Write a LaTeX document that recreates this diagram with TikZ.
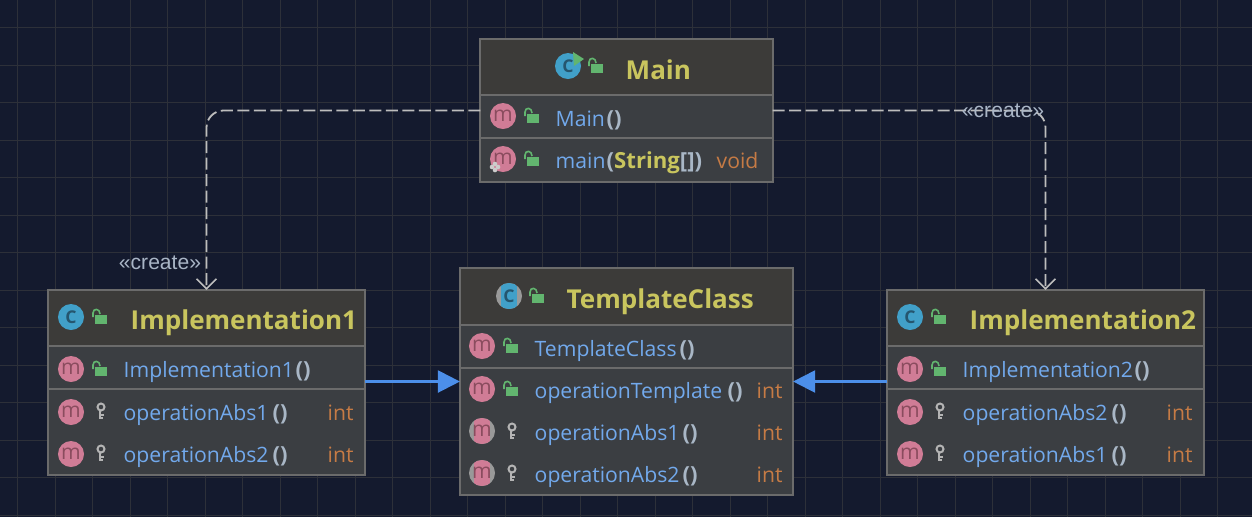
\documentclass[tikz,border=0pt]{standalone}
\usepackage{fontspec}
\setmainfont{Open Sans}
\setsansfont{Liberation Sans}
\usetikzlibrary{arrows.meta}
\definecolor{backcol}{HTML}{141A2E}
\definecolor{gridcol}{HTML}{2D3039}
\definecolor{headcol}{HTML}{3C3B39}
\definecolor{bodycol}{HTML}{3B3E42}
\definecolor{framecol}{HTML}{6B6B6B}
\definecolor{titlecol}{HTML}{C9C55E}
\definecolor{methcol}{HTML}{72A9EC}
\definecolor{parencol}{HTML}{A9B7C6}
\definecolor{typecol}{HTML}{C67B45}
\definecolor{pinkcol}{HTML}{D07C96}
\definecolor{pinktext}{HTML}{8A4C5E}
\definecolor{bluecol}{HTML}{41A0C9}
\definecolor{bluetext}{HTML}{25566F}
\definecolor{lockcol}{HTML}{62B56F}
\definecolor{keycol}{HTML}{B4B4B4}
\definecolor{dashcol}{HTML}{BDBDBD}
\definecolor{labelcol}{HTML}{A9B5C6}
\definecolor{inhercol}{HTML}{4C8FEA}
\tikzset{
  classbox/.style={draw=framecol,line width=0.02cm,fill=bodycol,inner sep=0pt,outer sep=0pt},
  rowline/.style={draw=framecol,line width=0.02cm},
  titletext/.style={anchor=base west,inner sep=0pt,text=titlecol,font=\fontsize{7.4}{9}\selectfont\bfseries},
  methtext/.style={anchor=base west,inner sep=0pt,text=methcol,font=\fontsize{6.02}{7}\selectfont},
  parentext/.style={anchor=base west,inner sep=0pt,text=parencol,font=\fontsize{6.3}{7}\selectfont\bfseries},
  typetext/.style={anchor=base west,inner sep=0pt,text=typecol,font=\fontsize{6.02}{7}\selectfont},
  micon/.style={circle,fill=pinkcol,text=pinktext,inner sep=0pt,minimum size=0.26cm,font=\fontsize{6}{6}\selectfont},
  cicon/.style={circle,fill=bluecol,text=bluetext,inner sep=0pt,minimum size=0.26cm,font=\fontsize{5}{5}\selectfont\bfseries},
  absicon/.style={circle,fill=keycol!85!black,inner sep=0pt,minimum size=0.26cm,
    path picture={\fill [#1] ([xshift=-0.08cm]path picture bounding box.south) rectangle ([xshift=0.08cm]path picture bounding box.north);}},
  createline/.style={draw=dashcol,line width=0.018cm,dash pattern=on 0.12cm off 0.045cm,rounded corners=0.17cm,-{Straight Barb[length=0.1cm,width=0.2cm,line width=0.016cm]}},
  inherline/.style={draw=inhercol,line width=0.022cm,-{Triangle[length=0.22cm,width=0.22cm,fill=inhercol]}},
  createtext/.style={inner sep=0pt,text=labelcol,font=\fontsize{6}{7}\selectfont\sffamily},
  lockicon/.pic={
    \fill [lockcol] (-5,-2) rectangle (7,7);
    \draw [lockcol,line width=0.016cm] (-7,0) -- (-7,-4) .. controls (-7,-9) and (0,-9) .. (0,-3);
  },
  keyicon/.pic={
    \draw [keycol,line width=0.02cm] (0,-4) circle (3.5);
    \draw [keycol,line width=0.026cm] (-1,-1) -- (-1,8);
    \draw [keycol,line width=0.018cm] (-1,4) -- (3,4) (-1,7) -- (2,7);
  },
  gearicon/.pic={
    \foreach \ang in {0,90,180,270} \fill [white!80!black] (\ang:3) circle (2.3);
  }
}
\begin{document}
\begin{tikzpicture}[x=0.01cm,y=-0.01cm]
  \useasboundingbox (0,0) rectangle (1252,517);
  \fill [backcol] (0,0) rectangle (1252,517);

  % Drawing grid
  \foreach \gx in {17.5,55,...,1250}
    \draw [gridcol,line width=0.01cm] (\gx,0) -- (\gx,517);
  \foreach \gy in {27.5,65,...,515}
    \draw [gridcol,line width=0.01cm] (0,\gy) -- (1252,\gy);

  % Class Main
  \node [classbox,minimum width=2.92cm,minimum height=1.43cm] (main) at (626.5,110.5) {};
  \fill [headcol] (main.north west) rectangle (main.east |- 0,95);
  \draw [rowline] (main.west |- 0,95) -- (main.east |- 0,95);
  \draw [rowline] (main.west |- 0,138) -- (main.east |- 0,138);
  \draw [rowline] (main.north west) rectangle (main.south east);
  \node [cicon] (mainc) at (568,66) {C};
  \fill [lockcol] (573,52) -- (584,59) -- (574,66) -- cycle;
  \pic at (596,66) {lockicon};
  \node [titletext] (maintitle) at (625,79) {Main};
  \node [micon] (mainm) at (503,116) {m};
  \pic at (532,116) {lockicon};
  \node [methtext] (mainctor) at (555,126) {Main};
  \node [parentext] (mainctorp) at (606,126) {()};
  \node [micon] (mainmm) at (503,159) {m};
  \pic at (495,167) {gearicon};
  \pic at (532,159) {lockicon};
  \node [methtext] (mainmeth) at (555,168) {main};
  \node [parentext] (mainargs) at (606,168) {(\textcolor{titlecol}{String}[])};
  \node [typetext] (mainvoid) at (716,168) {void};

  % Class TemplateClass
  \node [classbox,minimum width=3.33cm,minimum height=2.27cm] (templ) at (626.5,381.5) {};
  \fill [headcol] (templ.north west) rectangle (templ.east |- 0,325);
  \draw [rowline] (templ.west |- 0,325) -- (templ.east |- 0,325);
  \draw [rowline] (templ.west |- 0,368) -- (templ.east |- 0,368);
  \draw [rowline] (templ.north west) rectangle (templ.south east);
  \node [absicon=bluecol,text=bluetext,font=\fontsize{5}{5}\selectfont\bfseries] (templc) at (509,296) {C};
  \pic at (537,296) {lockicon};
  \node [titletext] (templtitle) at (566,308) {TemplateClass};
  \node [micon] (templm) at (482,346) {m};
  \pic at (511,346) {lockicon};
  \node [methtext] (templctor) at (534,356) {TemplateClass};
  \node [parentext] (templctorp) at (679,356) {()};
  \node [micon] (templn) at (482,389) {m};
  \pic at (511,389) {lockicon};
  \node [methtext] (templop) at (534,398) {operationTemplate};
  \node [parentext] (templopp) at (727,398) {()};
  \node [typetext] (templopt) at (756,398) {int};
  \node [absicon=pinkcol,text=pinktext,font=\fontsize{6}{6}\selectfont] (templa) at (482,431) {m};
  \pic at (512,431) {keyicon};
  \node [methtext] (templabsa) at (534,440) {operationAbs1};
  \node [parentext] (templabsap) at (682,440) {()};
  \node [typetext] (templabsat) at (756,440) {int};
  \node [absicon=pinkcol,text=pinktext,font=\fontsize{6}{6}\selectfont] (templb) at (482,473) {m};
  \pic at (512,473) {keyicon};
  \node [methtext] (templabsb) at (534,482) {operationAbs2};
  \node [parentext] (templabsbp) at (682,482) {()};
  \node [typetext] (templabsbt) at (756,482) {int};

  % Class Implementation1
  \node [classbox,minimum width=3.165cm,minimum height=1.85cm] (impla) at (206.5,382.5) {};
  \fill [headcol] (impla.north west) rectangle (impla.east |- 0,346);
  \draw [rowline] (impla.west |- 0,346) -- (impla.east |- 0,346);
  \draw [rowline] (impla.west |- 0,389) -- (impla.east |- 0,389);
  \draw [rowline] (impla.north west) rectangle (impla.south east);
  \node [cicon] (implac) at (71,317) {C};
  \pic at (100,317) {lockicon};
  \node [titletext] (implatitle) at (130,329) {Implementation1};
  \node [micon] (implam) at (71,369) {m};
  \pic at (100,369) {lockicon};
  \node [methtext] (implactor) at (123,377) {Implementation1};
  \node [parentext] (implactorp) at (295,377) {()};
  \node [micon] (implan) at (71,412) {m};
  \pic at (101,411) {keyicon};
  \node [methtext] (implaabsa) at (123,420) {operationAbs1};
  \node [parentext] (implaabsap) at (272,420) {()};
  \node [typetext] (implaabsat) at (327,420) {int};
  \node [micon] (implao) at (71,454) {m};
  \pic at (101,453) {keyicon};
  \node [methtext] (implaabsb) at (123,462) {operationAbs2};
  \node [parentext] (implaabsbp) at (272,462) {()};
  \node [typetext] (implaabsbt) at (327,462) {int};

  % Class Implementation2
  \node [classbox,minimum width=3.165cm,minimum height=1.85cm] (implb) at (1045.5,382.5) {};
  \fill [headcol] (implb.north west) rectangle (implb.east |- 0,346);
  \draw [rowline] (implb.west |- 0,346) -- (implb.east |- 0,346);
  \draw [rowline] (implb.west |- 0,389) -- (implb.east |- 0,389);
  \draw [rowline] (implb.north west) rectangle (implb.south east);
  \node [cicon] (implbc) at (910,317) {C};
  \pic at (939,317) {lockicon};
  \node [titletext] (implbtitle) at (969,329) {Implementation2};
  \node [micon] (implbm) at (910,369) {m};
  \pic at (939,369) {lockicon};
  \node [methtext] (implbctor) at (962,377) {Implementation2};
  \node [parentext] (implbctorp) at (1134,377) {()};
  \node [micon] (implbn) at (910,412) {m};
  \pic at (940,411) {keyicon};
  \node [methtext] (implbabsb) at (962,420) {operationAbs2};
  \node [parentext] (implbabsbp) at (1111,420) {()};
  \node [typetext] (implbabsbt) at (1166,420) {int};
  \node [micon] (implbo) at (910,454) {m};
  \pic at (940,453) {keyicon};
  \node [methtext] (implbabsa) at (962,462) {operationAbs1};
  \node [parentext] (implbabsap) at (1111,462) {()};
  \node [typetext] (implbabsat) at (1166,462) {int};

  % Drawing connectors
  \draw [createline] (main.west) -| (impla.north);
  \draw [createline] (main.east) -| (implb.north);
  \draw [inherline] (templ.west -| impla.east) -- (templ.west);
  \draw [inherline] (templ.east -| implb.west) -- (templ.east);
  \node [createtext] (createa) at (160,263) {«create»};
  \node [createtext] (createb) at (1003,111) {«create»};
\end{tikzpicture}
\end{document}
